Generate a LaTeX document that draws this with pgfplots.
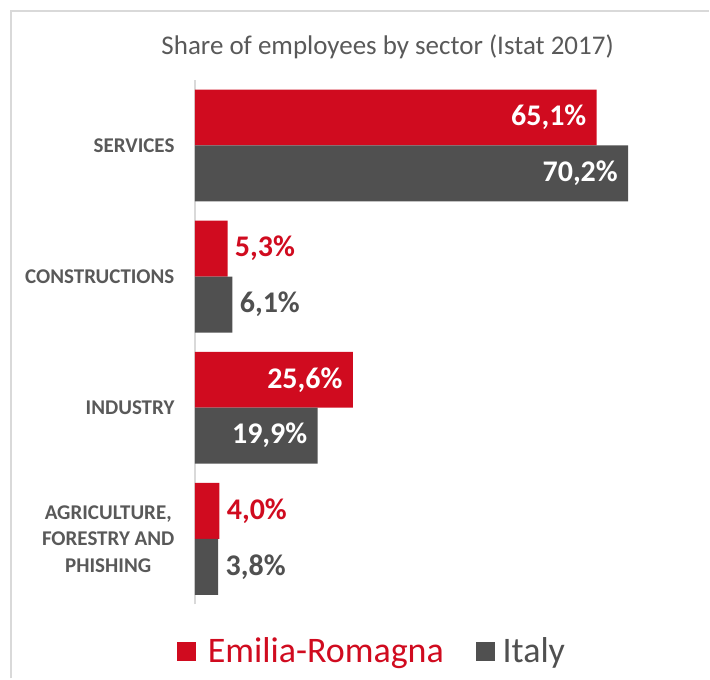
\documentclass[border=0pt]{standalone}
\usepackage{pgfplots}
\pgfplotsset{compat=1.18}
\usepackage{fontspec}
\setmainfont{Carlito}
\definecolor{erred}{RGB}{208,11,31}
\definecolor{itgray}{RGB}{80,80,80}
\definecolor{txtgray}{RGB}{89,89,89}
\definecolor{framegray}{RGB}{217,217,217}

\pgfplotsset{
  inlbl/.style={every node near coord/.append style={anchor=east, text=white, inner sep=0pt, xshift=-5pt}},
  outlbl/.style={every node near coord/.append style={anchor=west, text=#1, inner sep=0pt, xshift=3.5pt}},
}

\begin{document}
\begin{tikzpicture}
\begin{axis}[
  at={(0,0)}, anchor=south west,
  scale only axis,
  width=231.75pt, height=262.5pt,
  xbar, bar width=28pt,
  xmin=0, xmax=75,
  ymin=-0.5, ymax=3.5,
  axis x line=none,
  axis y line*=left,
  y axis line style={framegray, line width=0.75pt, -},
  ytick={0,1,2,3},
  yticklabels={{AGRICULTURE,\\FORESTRY AND\\PHISHING},INDUSTRY,CONSTRUCTIONS,SERVICES},
  yticklabel style={align=center, inner sep=0pt, xshift=-10pt,
    font=\fontsize{10.5}{13.3}\selectfont\bfseries, text=txtgray},
  major tick length=0pt,
  point meta=x,
  nodes near coords={\pgfmathprintnumber[fixed, fixed zerofill, precision=1, use comma, assume math mode=true]{\pgfplotspointmeta}\%},
  nodes near coords style={font=\fontsize{15}{18}\selectfont\bfseries},
  title={Share of employees by sector (Istat 2017)},
  title style={at={(0.4164,1.063)}, anchor=center, yshift=-6pt,
    font=\fontsize{13.5}{16}\selectfont, text=txtgray},
  legend style={at={(0.385,-0.0895)}, anchor=center, draw=none, fill=none,
    legend columns=2, font=\fontsize{18}{21}\selectfont,
    /tikz/every even column/.append style={column sep=14pt}},
  legend cell align=left,
]
% Emilia-Romagna
\addplot[fill=erred, draw=none, bar shift=14pt, inlbl, forget plot]
  coordinates {(65.1,3) (25.6,1)};
\addplot[fill=erred, draw=none, bar shift=14pt, outlbl=erred, forget plot]
  coordinates {(5.3,2) (4.0,0)};
% Italy
\addplot[fill=itgray, draw=none, bar shift=-14pt, inlbl, forget plot]
  coordinates {(70.2,3) (19.9,1)};
\addplot[fill=itgray, draw=none, bar shift=-14pt, outlbl=itgray, forget plot]
  coordinates {(6.1,2) (3.8,0)};

\addlegendimage{legend image code/.code={\fill[erred] (0pt,-4.5pt) rectangle (9pt,4.5pt); \path (13pt,0pt);}}
\addlegendentry{\textcolor{erred}{Emilia-Romagna}}
\addlegendimage{legend image code/.code={\fill[itgray] (0pt,-4.5pt) rectangle (9pt,4.5pt); \path (11pt,0pt);}}
\addlegendentry{\textcolor{itgray}{Italy}}
\end{axis}

\begin{scope}[x=0.5pt, y=-0.5pt, shift={(-195,-605)}]
  \path (0,0) rectangle (710,679);
  \draw[framegray, line width=0.75pt] (11,679) -- (11,11) -- (710,11);
\end{scope}
\end{tikzpicture}
\end{document}
